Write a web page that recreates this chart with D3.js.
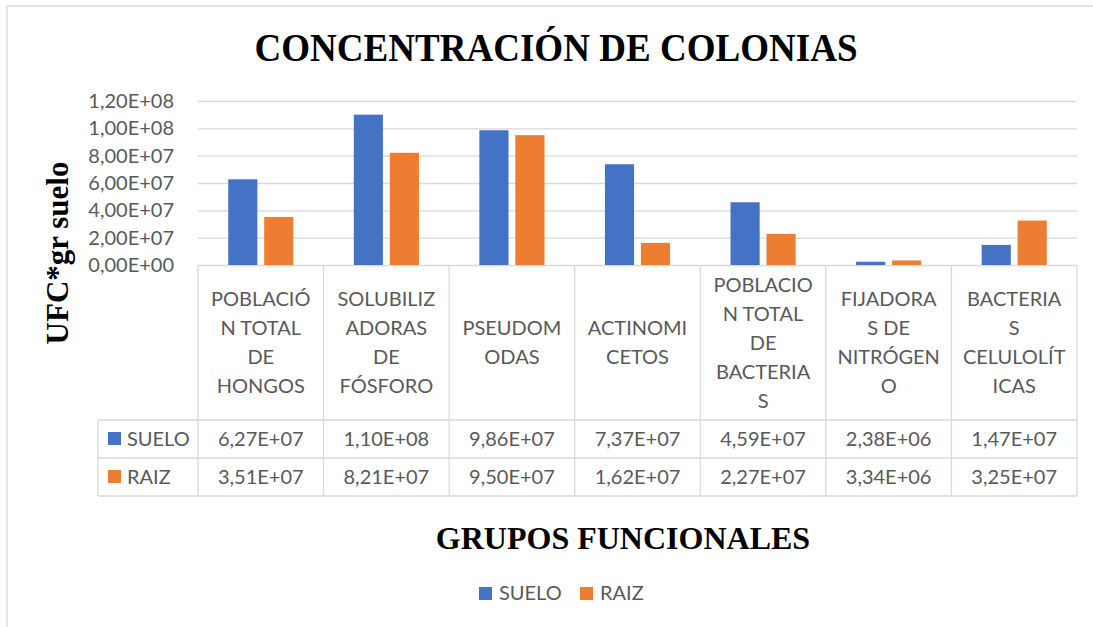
<!doctype html>
<html>
<head>
<meta charset="utf-8">
<style>
  body { margin: 0; background: #fff; }
  text { font-family: Lato, "Open Sans", sans-serif; }
  .serif { font-family: "Liberation Serif", "DejaVu Serif", serif; font-weight: bold; fill: #000; }
</style>
<script src="https://d3js.org/d3.v7.min.js"></script>
</head>
<body>
<svg width="1093" height="627"></svg>
<script>
// category labels, wrapped the same way as in the table header
var categories = [
  ["POBLACIÓ", "N TOTAL", "DE", "HONGOS"],
  ["SOLUBILIZ", "ADORAS", "DE", "FÓSFORO"],
  ["PSEUDOM", "ODAS"],
  ["ACTINOMI", "CETOS"],
  ["POBLACIO", "N TOTAL", "DE", "BACTERIA", "S"],
  ["FIJADORA", "S DE", "NITRÓGEN", "O"],
  ["BACTERIA", "S", "CELULOLÍT", "ICAS"]
];
var seriesNames = ["SUELO", "RAIZ"];
var seriesColors = ["#4472C4", "#ED7D31"];
var suelo = [6.27e7, 1.10e8, 9.86e7, 7.37e7, 4.59e7, 2.38e6, 1.47e7];
var raiz = [3.51e7, 8.21e7, 9.50e7, 1.62e7, 2.27e7, 3.34e6, 3.25e7];
var yTicks = [0, 2e7, 4e7, 6e7, 8e7, 1e8, 1.2e8];

var values = [suelo, raiz];
var catNames = categories.map(function(c) { return c.join(" "); });

// 6,27E+07 style numbers
function fmtE(v) {
  var s = d3.format(".2e")(v).split("e");
  var exp = +s[1];
  return s[0].replace(".", ",") + "E" + (exp < 0 ? "-" : "+") + d3.format("02")(Math.abs(exp));
}

var svg = d3.select("svg");
var grid = "#d9d9d9", textCol = "#595959";

var plotLeft = 198, plotRight = 1077, plotTop = 101, plotBase = 265;
var tableLeft = 98, headBottom = 420, rowH = 38;

// outer chart border
svg.append("rect")
  .attr("x", 7).attr("y", 6).attr("width", 1100).attr("height", 640)
  .attr("fill", "none").attr("stroke", grid).attr("stroke-width", 1.3);

var x0 = d3.scaleBand().domain(catNames).range([plotLeft, plotRight]).padding(0);
var x1 = d3.scaleBand().domain(seriesNames).range([0, x0.bandwidth()])
  .paddingInner(0.19).paddingOuter(0.84);
var y = d3.scaleLinear().domain([0, 1.2e8]).range([plotBase, plotTop]);

// gridlines + tick labels
var yAxis = svg.append("g")
  .attr("transform", "translate(" + plotLeft + ",0)")
  .call(d3.axisLeft(y).tickValues(yTicks).tickFormat(fmtE)
    .tickSize(-(plotRight - plotLeft)).tickPadding(24));
yAxis.select(".domain").remove();
yAxis.selectAll(".tick line").attr("stroke", grid).attr("stroke-width", 1.3);
yAxis.selectAll(".tick text")
  .attr("fill", textCol).style("font-size", "20px").style("font-family", "Lato");

// bars
var barData = [];
catNames.forEach(function(c, i) {
  seriesNames.forEach(function(s, j) {
    barData.push({ cat: c, series: s, value: values[j][i], color: seriesColors[j] });
  });
});
svg.append("g").selectAll("rect")
  .data(barData)
  .enter().append("rect")
  .attr("x", function(d) { return x0(d.cat) + x1(d.series); })
  .attr("y", function(d) { return y(d.value); })
  .attr("width", x1.bandwidth())
  .attr("height", function(d) { return y(0) - y(d.value); })
  .attr("fill", function(d) { return d.color; });

// data table
var table = svg.append("g");
var tableBottom = headBottom + rowH * seriesNames.length;

// horizontal lines
for (var r = 0; r <= seriesNames.length; r++) {
  table.append("line")
    .attr("x1", tableLeft).attr("x2", plotRight)
    .attr("y1", headBottom + r * rowH).attr("y2", headBottom + r * rowH)
    .attr("stroke", grid).attr("stroke-width", 1.3);
}
// vertical lines
table.append("line")
  .attr("x1", tableLeft).attr("x2", tableLeft)
  .attr("y1", headBottom).attr("y2", tableBottom)
  .attr("stroke", grid).attr("stroke-width", 1.3);
catNames.concat([null]).forEach(function(c) {
  var xx = c === null ? plotRight : x0(c);
  table.append("line")
    .attr("x1", xx).attr("x2", xx)
    .attr("y1", plotBase).attr("y2", tableBottom)
    .attr("stroke", grid).attr("stroke-width", 1.3);
});

// header labels
var lineH = 29, headMid = (plotBase + headBottom) / 2;
categories.forEach(function(lines, i) {
  var cx = x0(catNames[i]) + x0.bandwidth() / 2;
  var t = table.append("text")
    .attr("text-anchor", "middle")
    .attr("fill", textCol)
    .style("font-size", "20px");
  lines.forEach(function(l, k) {
    t.append("tspan")
      .attr("x", cx)
      .attr("y", headMid + (k - (lines.length - 1) / 2) * lineH + 7)
      .text(l);
  });
});

// rows
seriesNames.forEach(function(s, j) {
  var cy = headBottom + j * rowH + rowH / 2;
  table.append("rect")
    .attr("x", 108).attr("y", cy - 7).attr("width", 13).attr("height", 13)
    .attr("fill", seriesColors[j]);
  table.append("text")
    .attr("x", 127).attr("y", cy + 7)
    .attr("fill", textCol).style("font-size", "20px")
    .text(s);
  values[j].forEach(function(v, i) {
    table.append("text")
      .attr("x", x0(catNames[i]) + x0.bandwidth() / 2)
      .attr("y", cy + 7)
      .attr("text-anchor", "middle")
      .attr("fill", textCol).style("font-size", "20px")
      .text(fmtE(v));
  });
});

// titles
svg.append("text")
  .attr("class", "serif")
  .attr("x", 556).attr("y", 61)
  .attr("text-anchor", "middle")
  .attr("textLength", 603).attr("lengthAdjust", "spacingAndGlyphs")
  .style("font-size", "40px")
  .text("CONCENTRACIÓN  DE COLONIAS");

svg.append("text")
  .attr("class", "serif")
  .attr("transform", "translate(68,253) rotate(-90)")
  .attr("text-anchor", "middle")
  .style("font-size", "31px")
  .text("UFC*gr suelo");

svg.append("text")
  .attr("class", "serif")
  .attr("x", 623).attr("y", 549)
  .attr("text-anchor", "middle")
  .style("font-size", "32px")
  .text("GRUPOS FUNCIONALES");

// legend
var legend = svg.append("g");
var legendX = [479, 580];
seriesNames.forEach(function(s, j) {
  legend.append("rect")
    .attr("x", legendX[j]).attr("y", 587).attr("width", 13).attr("height", 13)
    .attr("fill", seriesColors[j]);
  legend.append("text")
    .attr("x", legendX[j] + 20).attr("y", 600)
    .attr("fill", textCol).style("font-size", "20px")
    .text(s);
});
</script>
</body>
</html>
